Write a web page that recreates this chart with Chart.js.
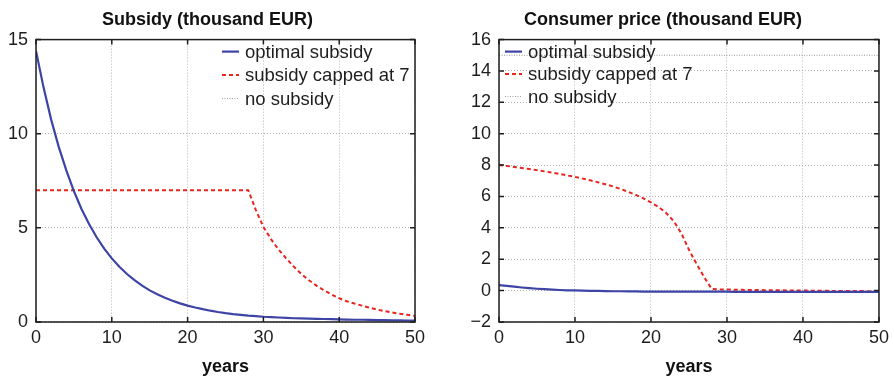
<!DOCTYPE html>
<html>
<head>
<meta charset="utf-8">
<script src="https://cdn.jsdelivr.net/npm/chart.js@4.4.1/dist/chart.umd.min.js"></script>
<style>
  body { margin: 0; background: #fff; }
  .pane { position: absolute; top: 0; width: 447px; height: 378px; }
</style>
</head>
<body>
<div class="pane" style="left:0"><canvas id="chartSubsidy" width="447" height="378"></canvas></div>
<div class="pane" style="left:447px"><canvas id="chartPrice" width="447" height="378"></canvas></div>
<script>
  // time axis (years)
  var years = [0,1,2,3,4,5,6,7,8,9,10,11,12,13,14,15,16,17,18,19,20,21,22,23,24,25,
               26,27,28,29,30,31,32,33,34,35,36,37,38,39,40,41,42,43,44,45,46,47,48,49,50];
  var xTicks = [0, 10, 20, 30, 40, 50];
  var seriesNames = ["optimal subsidy", "subsidy capped at 7", "no subsidy"];

  // subsidy, thousand EUR
  var subsidyOptimal = [14.4,12.45,10.75,9.3,8.05,6.95,6.0,5.2,4.5,3.9,3.38,2.93,2.55,2.22,1.93,1.68,
                        1.47,1.29,1.13,0.99,0.87,0.77,0.68,0.6,0.53,0.47,0.42,0.38,0.34,0.31,0.28,
                        0.26,0.24,0.22,0.2,0.19,0.18,0.17,0.16,0.15,0.14,0.13,0.12,0.12,0.11,0.1,
                        0.1,0.09,0.09,0.08,0.08];
  var subsidyCapped = [7,7,7,7,7,7,7,7,7,7,7,7,7,7,7,7,7,7,7,7,7,7,7,7,7,7,7,7,7,
                       5.95,5.05,4.4,3.85,3.38,2.95,2.55,2.22,1.93,1.68,1.46,1.26,1.1,0.98,0.87,
                       0.76,0.66,0.58,0.5,0.44,0.38,0.32];
  var noSubsidyYears = [0, 50];
  var subsidyNone = [0, 0];
  var subsidyTicks = [0, 5, 10, 15];

  // consumer price, thousand EUR
  var priceOptimal = [0.35,0.3,0.25,0.2,0.16,0.12,0.09,0.06,0.04,0.02,0.01,0,-0.01,-0.02,-0.03,
                      -0.04,-0.04,-0.05,-0.05,-0.06,-0.06,-0.07,-0.07,-0.07,-0.07,-0.07,-0.07,
                      -0.07,-0.07,-0.07,-0.07,-0.08,-0.08,-0.08,-0.08,-0.08,-0.08,-0.08,-0.08,
                      -0.08,-0.08,-0.08,-0.08,-0.08,-0.08,-0.08,-0.08,-0.08,-0.08,-0.08,-0.08];
  var priceCapped = [8.0,7.95,7.88,7.82,7.75,7.68,7.6,7.52,7.43,7.34,7.25,7.14,7.03,6.91,6.78,
                     6.64,6.48,6.3,6.1,5.88,5.62,5.33,4.95,4.42,3.65,2.6,1.7,0.85,0.1,0.08,0.07,
                     0.06,0.05,0.04,0.04,0.03,0.02,0.02,0.01,0.01,0,0,-0.01,-0.01,-0.02,-0.02,
                     -0.03,-0.03,-0.03,-0.04,-0.04];
  var priceNone = [15, 15];
  var priceTicks = [-2, 0, 2, 4, 6, 8, 10, 12, 14, 16];

  var FONT = "'Liberation Sans', Arial, Helvetica, sans-serif";
  var BLUE = "#3d44a6", RED = "#e8251e", GREY = "#9a9a9a";

  function pts(xs, ys) {
    return xs.map(function (x, i) { return { x: x, y: ys[i] }; });
  }

  // black box round the plot with short inward tick marks
  var framePlugin = {
    id: "frame",
    afterDraw: function (chart) {
      var a = chart.chartArea, ctx = chart.ctx;
      var sx = chart.scales.x, sy = chart.scales.y;
      ctx.save();
      ctx.setLineDash([]);
      ctx.strokeStyle = "#1e1e1e";
      ctx.lineWidth = 1.5;
      ctx.beginPath();
      sx.ticks.forEach(function (t) {
        var p = sx.getPixelForValue(t.value);
        ctx.moveTo(p, a.bottom); ctx.lineTo(p, a.bottom - 5);
        ctx.moveTo(p, a.top); ctx.lineTo(p, a.top + 5);
      });
      sy.ticks.forEach(function (t) {
        var p = sy.getPixelForValue(t.value);
        ctx.moveTo(a.left, p); ctx.lineTo(a.left + 5, p);
        ctx.moveTo(a.right, p); ctx.lineTo(a.right - 5, p);
      });
      ctx.stroke();
      ctx.strokeRect(a.left, a.top, a.right - a.left, a.bottom - a.top);
      ctx.restore();
    }
  };

  // legend drawn inside the plot area, no background
  var insideLegend = {
    id: "insideLegend",
    afterDraw: function (chart, args, opts) {
      var ctx = chart.ctx, a = chart.chartArea;
      var x0 = opts.fromRight ? a.right - opts.x : a.left + opts.x;
      chart.data.datasets.forEach(function (ds, i) {
        var y = a.top + opts.y + i * opts.gap;
        ctx.save();
        ctx.strokeStyle = ds.borderColor;
        ctx.lineWidth = ds.borderWidth;
        ctx.setLineDash(ds.borderDash || []);
        ctx.beginPath();
        ctx.moveTo(x0, y); ctx.lineTo(x0 + 17, y);
        ctx.stroke();
        ctx.fillStyle = "#1e1e1e";
        ctx.font = "18.5px " + FONT;
        ctx.textBaseline = "middle";
        ctx.fillText(ds.label, x0 + 23, y + 1);
        ctx.restore();
      });
    }
  };

  function datasets(optimal, capped, none) {
    return [
      { label: seriesNames[0], data: pts(years, optimal), borderColor: BLUE, borderWidth: 2.2 },
      { label: seriesNames[1], data: pts(years, capped), borderColor: RED, borderWidth: 2, borderDash: [4, 3] },
      { label: seriesNames[2], data: pts(noSubsidyYears, none), borderColor: GREY, borderWidth: 1, borderDash: [1, 1.5] }
    ];
  }

  function options(title, yTicks, yWidth, padRight, legend) {
    return {
      responsive: false,
      animation: false,
      layout: { padding: { left: 0, right: padRight, top: 0, bottom: 0 } },
      elements: { point: { radius: 0 }, line: { tension: 0, fill: false } },
      plugins: {
        legend: { display: false },
        tooltip: { enabled: false },
        title: {
          display: true, text: title, color: "#111",
          font: { family: FONT, size: 18, weight: "bold" },
          padding: { top: 9, bottom: 9 }
        },
        insideLegend: legend
      },
      scales: {
        x: {
          type: "linear", min: 0, max: 50,
          afterBuildTicks: function (s) { s.ticks = xTicks.map(function (v) { return { value: v }; }); },
          afterFit: function (s) { s.height = 56; },
          grid: { color: "#b5b5b5", lineWidth: 1, drawTicks: false },
          border: { display: false, dash: [1, 2] },
          ticks: { color: "#1e1e1e", padding: 5, font: { family: FONT, size: 18 }, maxRotation: 0 },
          title: {
            display: true, text: "years", color: "#111",
            font: { family: FONT, size: 18, weight: "bold" },
            padding: { top: 0, bottom: 0 }
          }
        },
        y: {
          type: "linear", min: yTicks[0], max: yTicks[yTicks.length - 1],
          afterBuildTicks: function (s) { s.ticks = yTicks.map(function (v) { return { value: v }; }); },
          afterFit: function (s) { s.width = yWidth; },
          grid: { color: "#b5b5b5", lineWidth: 1, drawTicks: false },
          border: { display: false, dash: [1, 2] },
          ticks: {
            color: "#1e1e1e", padding: 8, font: { family: FONT, size: 18 },
            callback: function (v) { return String(v).replace("-", "\u2212"); }
          }
        }
      }
    };
  }

  new Chart(document.getElementById("chartSubsidy").getContext("2d"), {
    type: "line",
    data: { datasets: datasets(subsidyOptimal, subsidyCapped, subsidyNone) },
    options: options("Subsidy (thousand EUR)", subsidyTicks, 36, 32, { fromRight: true, x: 193, y: 12, gap: 23.5 }),
    plugins: [framePlugin, insideLegend]
  });

  new Chart(document.getElementById("chartPrice").getContext("2d"), {
    type: "line",
    data: { datasets: datasets(priceOptimal, priceCapped, priceNone) },
    options: options("Consumer price (thousand EUR)", priceTicks, 52, 15, { fromRight: false, x: 6, y: 12, gap: 22.5 }),
    plugins: [framePlugin, insideLegend]
  });
</script>
</body>
</html>
